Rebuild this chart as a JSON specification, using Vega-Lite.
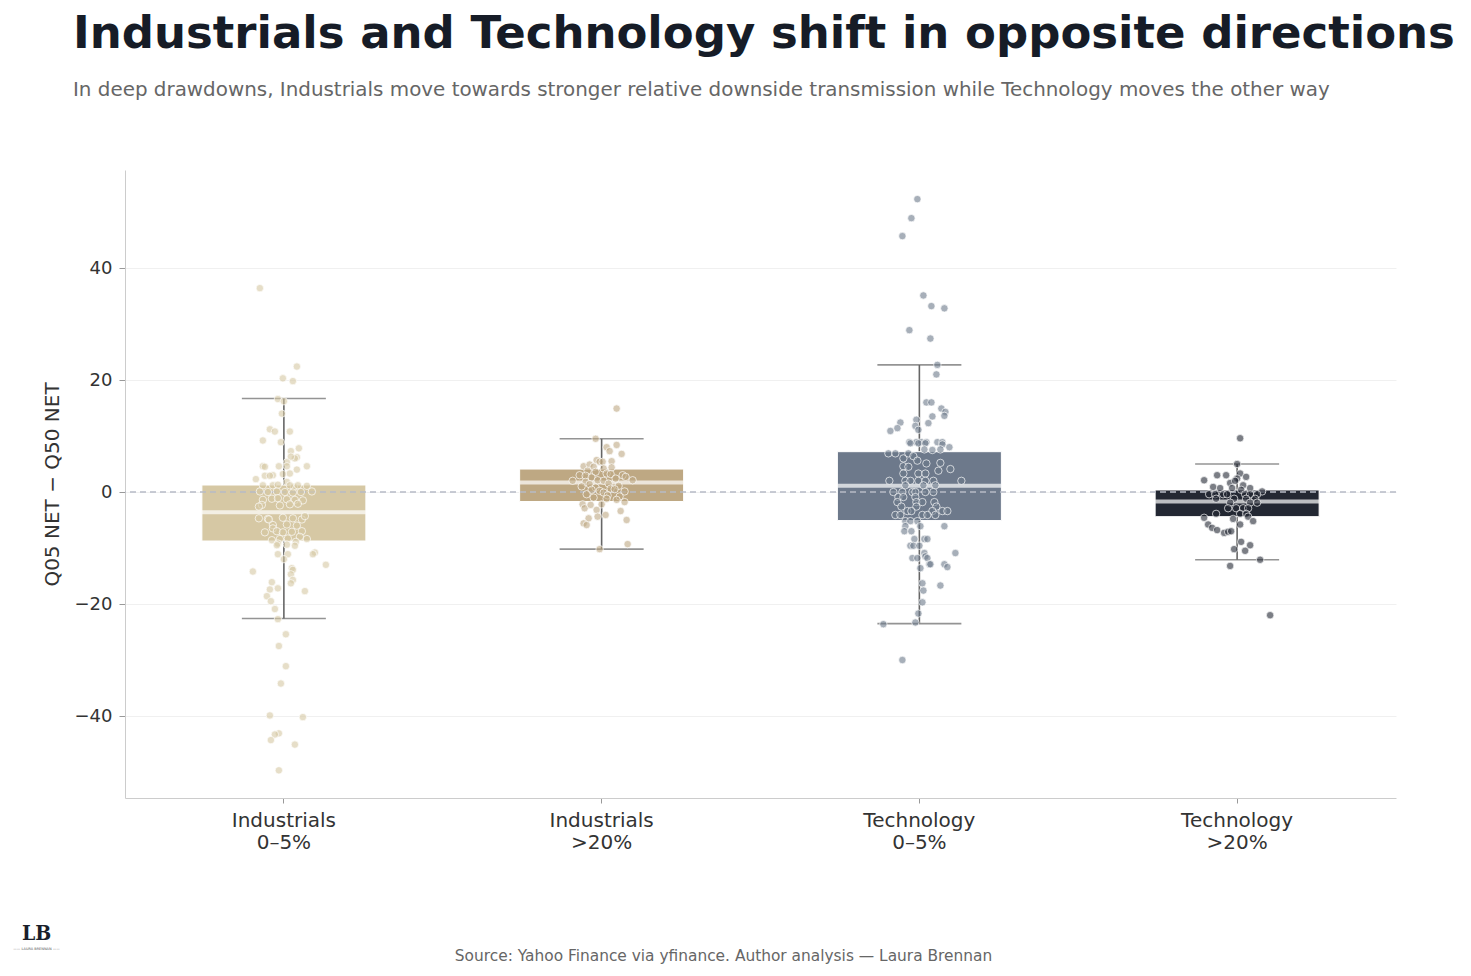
{
  "$schema": "https://vega.github.io/schema/vega-lite/v6.json",
  "width": 1271,
  "height": 628,
  "autosize": {"type": "none"},
  "padding": {"left": 125, "top": 170, "right": 75, "bottom": 178},
  "background": "white",
  "config": {"view": {"stroke": null}, "font": "DejaVu Sans"},
  "title": {
    "text": "Industrials and Technology shift in opposite directions",
    "subtitle": "In deep drawdowns, Industrials move towards stronger relative downside transmission while Technology moves the other way",
    "anchor": "start",
    "frame": "group",
    "dx": -52,
    "offset": 70,
    "font": "DejaVu Sans",
    "fontSize": 45,
    "fontWeight": "bold",
    "color": "#161c27",
    "subtitleFont": "DejaVu Sans",
    "subtitleFontSize": 19.9,
    "subtitleColor": "#666666",
    "subtitlePadding": 23
  },
  "datasets": {
    "summary": [
      {"group": "Industrials 0–5%", "lo": -22.6, "q1": -8.75, "median": -3.6, "q3": 1.25, "hi": 16.7},
      {"group": "Industrials >20%", "lo": -10.2, "q1": -1.7, "median": 1.7, "q3": 4.1, "hi": 9.5},
      {"group": "Technology 0–5%", "lo": -23.5, "q1": -5.1, "median": 1.1, "q3": 7.2, "hi": 22.7},
      {"group": "Technology >20%", "lo": -12.1, "q1": -4.4, "median": -1.7, "q3": 0.36, "hi": 5.0}
    ],
    "points": [
      {"group": "Industrials 0–5%", "value": 36.4, "jitter": -24},
      {"group": "Industrials 0–5%", "value": 22.4, "jitter": 13},
      {"group": "Industrials 0–5%", "value": 20.3, "jitter": -1},
      {"group": "Industrials 0–5%", "value": 19.8, "jitter": 9},
      {"group": "Industrials 0–5%", "value": 16.6, "jitter": -6},
      {"group": "Industrials 0–5%", "value": 16.2, "jitter": 0},
      {"group": "Industrials 0–5%", "value": 14.0, "jitter": -2},
      {"group": "Industrials 0–5%", "value": 11.2, "jitter": -14},
      {"group": "Industrials 0–5%", "value": 10.8, "jitter": -9},
      {"group": "Industrials 0–5%", "value": 10.8, "jitter": 6},
      {"group": "Industrials 0–5%", "value": 9.2, "jitter": -21},
      {"group": "Industrials 0–5%", "value": 8.9, "jitter": -3},
      {"group": "Industrials 0–5%", "value": 7.8, "jitter": 15},
      {"group": "Industrials 0–5%", "value": 7.3, "jitter": 7},
      {"group": "Industrials 0–5%", "value": 6.2, "jitter": 13},
      {"group": "Industrials 0–5%", "value": 6.0, "jitter": 11},
      {"group": "Industrials 0–5%", "value": 6.3, "jitter": 7},
      {"group": "Industrials 0–5%", "value": 5.3, "jitter": 3},
      {"group": "Industrials 0–5%", "value": 4.6, "jitter": 23},
      {"group": "Industrials 0–5%", "value": 4.6, "jitter": -21},
      {"group": "Industrials 0–5%", "value": 4.5, "jitter": -19},
      {"group": "Industrials 0–5%", "value": 4.6, "jitter": -5},
      {"group": "Industrials 0–5%", "value": 4.6, "jitter": 3},
      {"group": "Industrials 0–5%", "value": 4.0, "jitter": 13},
      {"group": "Industrials 0–5%", "value": 3.3, "jitter": 6},
      {"group": "Industrials 0–5%", "value": 3.2, "jitter": -1},
      {"group": "Industrials 0–5%", "value": 2.9, "jitter": -19},
      {"group": "Industrials 0–5%", "value": 3.0, "jitter": -11},
      {"group": "Industrials 0–5%", "value": 2.9, "jitter": -14},
      {"group": "Industrials 0–5%", "value": 2.3, "jitter": -28},
      {"group": "Industrials 0–5%", "value": 1.8, "jitter": 3},
      {"group": "Industrials 0–5%", "value": 0.9, "jitter": 10},
      {"group": "Industrials 0–5%", "value": 1.2, "jitter": -21},
      {"group": "Industrials 0–5%", "value": 1.2, "jitter": -11},
      {"group": "Industrials 0–5%", "value": 1.3, "jitter": -6},
      {"group": "Industrials 0–5%", "value": 1.2, "jitter": 6},
      {"group": "Industrials 0–5%", "value": 1.2, "jitter": 14},
      {"group": "Industrials 0–5%", "value": 1.1, "jitter": 23},
      {"group": "Industrials 0–5%", "value": 0.1, "jitter": -24},
      {"group": "Industrials 0–5%", "value": 0.0, "jitter": -16},
      {"group": "Industrials 0–5%", "value": 0.1, "jitter": -7},
      {"group": "Industrials 0–5%", "value": 0.0, "jitter": 1},
      {"group": "Industrials 0–5%", "value": -0.1, "jitter": 9},
      {"group": "Industrials 0–5%", "value": 0.0, "jitter": 17},
      {"group": "Industrials 0–5%", "value": 0.1, "jitter": 28},
      {"group": "Industrials 0–5%", "value": -1.4, "jitter": -21},
      {"group": "Industrials 0–5%", "value": -1.2, "jitter": -12},
      {"group": "Industrials 0–5%", "value": -1.1, "jitter": -6},
      {"group": "Industrials 0–5%", "value": -1.3, "jitter": 3},
      {"group": "Industrials 0–5%", "value": -1.4, "jitter": 11},
      {"group": "Industrials 0–5%", "value": -1.5, "jitter": 19},
      {"group": "Industrials 0–5%", "value": -2.3, "jitter": -22},
      {"group": "Industrials 0–5%", "value": -2.4, "jitter": -4},
      {"group": "Industrials 0–5%", "value": -2.2, "jitter": 6},
      {"group": "Industrials 0–5%", "value": -2.1, "jitter": 14},
      {"group": "Industrials 0–5%", "value": -2.6, "jitter": -25},
      {"group": "Industrials 0–5%", "value": -4.8, "jitter": -16},
      {"group": "Industrials 0–5%", "value": -4.6, "jitter": -1},
      {"group": "Industrials 0–5%", "value": -4.7, "jitter": 9},
      {"group": "Industrials 0–5%", "value": -4.9, "jitter": 18},
      {"group": "Industrials 0–5%", "value": -4.7, "jitter": -25},
      {"group": "Industrials 0–5%", "value": -4.9, "jitter": -15},
      {"group": "Industrials 0–5%", "value": -4.3, "jitter": 21},
      {"group": "Industrials 0–5%", "value": -5.9, "jitter": -11},
      {"group": "Industrials 0–5%", "value": -5.8, "jitter": 3},
      {"group": "Industrials 0–5%", "value": -6.0, "jitter": 13},
      {"group": "Industrials 0–5%", "value": -6.5, "jitter": -11},
      {"group": "Industrials 0–5%", "value": -7.2, "jitter": -19},
      {"group": "Industrials 0–5%", "value": -7.0, "jitter": -7},
      {"group": "Industrials 0–5%", "value": -7.2, "jitter": -1},
      {"group": "Industrials 0–5%", "value": -7.1, "jitter": 8},
      {"group": "Industrials 0–5%", "value": -7.0, "jitter": 18},
      {"group": "Industrials 0–5%", "value": -8.6, "jitter": -12},
      {"group": "Industrials 0–5%", "value": -8.4, "jitter": -4},
      {"group": "Industrials 0–5%", "value": -8.3, "jitter": 4},
      {"group": "Industrials 0–5%", "value": -8.0, "jitter": 16},
      {"group": "Industrials 0–5%", "value": -8.4, "jitter": 23},
      {"group": "Industrials 0–5%", "value": -8.9, "jitter": 12},
      {"group": "Industrials 0–5%", "value": -9.2, "jitter": -6},
      {"group": "Industrials 0–5%", "value": -9.5, "jitter": -7},
      {"group": "Industrials 0–5%", "value": -9.4, "jitter": 3},
      {"group": "Industrials 0–5%", "value": -9.6, "jitter": 11},
      {"group": "Industrials 0–5%", "value": -10.8, "jitter": 31},
      {"group": "Industrials 0–5%", "value": -11.1, "jitter": 29},
      {"group": "Industrials 0–5%", "value": -11.1, "jitter": -6},
      {"group": "Industrials 0–5%", "value": -11.1, "jitter": 4},
      {"group": "Industrials 0–5%", "value": -12.0, "jitter": 0},
      {"group": "Industrials 0–5%", "value": -13.0, "jitter": 42},
      {"group": "Industrials 0–5%", "value": -14.2, "jitter": -31},
      {"group": "Industrials 0–5%", "value": -13.6, "jitter": 8},
      {"group": "Industrials 0–5%", "value": -13.9, "jitter": 9},
      {"group": "Industrials 0–5%", "value": -14.7, "jitter": 7},
      {"group": "Industrials 0–5%", "value": -15.7, "jitter": 9},
      {"group": "Industrials 0–5%", "value": -16.3, "jitter": 7},
      {"group": "Industrials 0–5%", "value": -16.1, "jitter": -12},
      {"group": "Industrials 0–5%", "value": -17.4, "jitter": -14},
      {"group": "Industrials 0–5%", "value": -17.2, "jitter": -6},
      {"group": "Industrials 0–5%", "value": -17.7, "jitter": 21},
      {"group": "Industrials 0–5%", "value": -18.6, "jitter": -17},
      {"group": "Industrials 0–5%", "value": -19.5, "jitter": -13},
      {"group": "Industrials 0–5%", "value": -20.9, "jitter": -9},
      {"group": "Industrials 0–5%", "value": -22.7, "jitter": -6},
      {"group": "Industrials 0–5%", "value": -25.4, "jitter": 2},
      {"group": "Industrials 0–5%", "value": -27.5, "jitter": -5},
      {"group": "Industrials 0–5%", "value": -31.1, "jitter": 2},
      {"group": "Industrials 0–5%", "value": -34.2, "jitter": -3},
      {"group": "Industrials 0–5%", "value": -39.9, "jitter": -14},
      {"group": "Industrials 0–5%", "value": -40.2, "jitter": 19},
      {"group": "Industrials 0–5%", "value": -43.1, "jitter": -5},
      {"group": "Industrials 0–5%", "value": -43.3, "jitter": -9},
      {"group": "Industrials 0–5%", "value": -44.3, "jitter": -13},
      {"group": "Industrials 0–5%", "value": -45.1, "jitter": 11},
      {"group": "Industrials 0–5%", "value": -49.7, "jitter": -5},
      {"group": "Industrials >20%", "value": 14.9, "jitter": 15},
      {"group": "Industrials >20%", "value": 9.5, "jitter": -6},
      {"group": "Industrials >20%", "value": 8.0, "jitter": 5},
      {"group": "Industrials >20%", "value": 7.3, "jitter": 8},
      {"group": "Industrials >20%", "value": 8.4, "jitter": 15},
      {"group": "Industrials >20%", "value": 6.8, "jitter": 20},
      {"group": "Industrials >20%", "value": 5.7, "jitter": -5},
      {"group": "Industrials >20%", "value": 5.4, "jitter": -2},
      {"group": "Industrials >20%", "value": 5.4, "jitter": 1},
      {"group": "Industrials >20%", "value": 5.5, "jitter": 10},
      {"group": "Industrials >20%", "value": 4.6, "jitter": -18},
      {"group": "Industrials >20%", "value": 4.9, "jitter": -12},
      {"group": "Industrials >20%", "value": 4.5, "jitter": -8},
      {"group": "Industrials >20%", "value": 4.2, "jitter": 2},
      {"group": "Industrials >20%", "value": 4.4, "jitter": 10},
      {"group": "Industrials >20%", "value": 3.8, "jitter": -14},
      {"group": "Industrials >20%", "value": 3.0, "jitter": -22},
      {"group": "Industrials >20%", "value": 2.9, "jitter": -16},
      {"group": "Industrials >20%", "value": 3.6, "jitter": -6},
      {"group": "Industrials >20%", "value": 3.3, "jitter": 5},
      {"group": "Industrials >20%", "value": 3.2, "jitter": 9},
      {"group": "Industrials >20%", "value": 3.0, "jitter": 21},
      {"group": "Industrials >20%", "value": 2.7, "jitter": 24},
      {"group": "Industrials >20%", "value": 2.1, "jitter": 31},
      {"group": "Industrials >20%", "value": 2.4, "jitter": 14},
      {"group": "Industrials >20%", "value": 2.6, "jitter": -10},
      {"group": "Industrials >20%", "value": 2.0, "jitter": -29},
      {"group": "Industrials >20%", "value": 2.1, "jitter": -4},
      {"group": "Industrials >20%", "value": 2.0, "jitter": 2},
      {"group": "Industrials >20%", "value": 1.8, "jitter": -16},
      {"group": "Industrials >20%", "value": 1.4, "jitter": -12},
      {"group": "Industrials >20%", "value": 1.5, "jitter": 7},
      {"group": "Industrials >20%", "value": 1.1, "jitter": 17},
      {"group": "Industrials >20%", "value": 1.0, "jitter": -20},
      {"group": "Industrials >20%", "value": 0.8, "jitter": -6},
      {"group": "Industrials >20%", "value": 0.6, "jitter": 9},
      {"group": "Industrials >20%", "value": 0.4, "jitter": -10},
      {"group": "Industrials >20%", "value": 0.2, "jitter": -2},
      {"group": "Industrials >20%", "value": -0.1, "jitter": 2},
      {"group": "Industrials >20%", "value": 0.5, "jitter": 13},
      {"group": "Industrials >20%", "value": 0.1, "jitter": 23},
      {"group": "Industrials >20%", "value": -0.4, "jitter": -15},
      {"group": "Industrials >20%", "value": -0.6, "jitter": 6},
      {"group": "Industrials >20%", "value": -0.8, "jitter": 18},
      {"group": "Industrials >20%", "value": -1.0, "jitter": -8},
      {"group": "Industrials >20%", "value": -1.2, "jitter": 5},
      {"group": "Industrials >20%", "value": -1.4, "jitter": 15},
      {"group": "Industrials >20%", "value": -1.8, "jitter": 23},
      {"group": "Industrials >20%", "value": -2.2, "jitter": -19},
      {"group": "Industrials >20%", "value": -2.9, "jitter": -17},
      {"group": "Industrials >20%", "value": -2.3, "jitter": -11},
      {"group": "Industrials >20%", "value": -2.2, "jitter": 0},
      {"group": "Industrials >20%", "value": -3.2, "jitter": -5},
      {"group": "Industrials >20%", "value": -3.4, "jitter": 19},
      {"group": "Industrials >20%", "value": -4.1, "jitter": 4},
      {"group": "Industrials >20%", "value": -4.4, "jitter": -4},
      {"group": "Industrials >20%", "value": -4.7, "jitter": -13},
      {"group": "Industrials >20%", "value": -5.0, "jitter": 25},
      {"group": "Industrials >20%", "value": -5.6, "jitter": -18},
      {"group": "Industrials >20%", "value": -5.9, "jitter": -15},
      {"group": "Industrials >20%", "value": -9.3, "jitter": 26},
      {"group": "Industrials >20%", "value": -10.2, "jitter": -2},
      {"group": "Technology 0–5%", "value": 52.3, "jitter": -2},
      {"group": "Technology 0–5%", "value": 48.9, "jitter": -8},
      {"group": "Technology 0–5%", "value": 45.7, "jitter": -17},
      {"group": "Technology 0–5%", "value": 35.1, "jitter": 4},
      {"group": "Technology 0–5%", "value": 33.2, "jitter": 12},
      {"group": "Technology 0–5%", "value": 32.8, "jitter": 25},
      {"group": "Technology 0–5%", "value": 28.9, "jitter": -10},
      {"group": "Technology 0–5%", "value": 27.4, "jitter": 11},
      {"group": "Technology 0–5%", "value": 22.7, "jitter": 18},
      {"group": "Technology 0–5%", "value": 21.0, "jitter": 17},
      {"group": "Technology 0–5%", "value": 16.0, "jitter": 7},
      {"group": "Technology 0–5%", "value": 16.0, "jitter": 12},
      {"group": "Technology 0–5%", "value": 14.9, "jitter": 22},
      {"group": "Technology 0–5%", "value": 14.3, "jitter": 26},
      {"group": "Technology 0–5%", "value": 13.6, "jitter": 25},
      {"group": "Technology 0–5%", "value": 13.5, "jitter": 13},
      {"group": "Technology 0–5%", "value": 12.3, "jitter": 9},
      {"group": "Technology 0–5%", "value": 12.9, "jitter": -3},
      {"group": "Technology 0–5%", "value": 11.8, "jitter": -4},
      {"group": "Technology 0–5%", "value": 11.1, "jitter": -1},
      {"group": "Technology 0–5%", "value": 12.4, "jitter": -19},
      {"group": "Technology 0–5%", "value": 11.4, "jitter": -22},
      {"group": "Technology 0–5%", "value": 10.9, "jitter": -29},
      {"group": "Technology 0–5%", "value": 8.9, "jitter": -10},
      {"group": "Technology 0–5%", "value": 8.9, "jitter": -3},
      {"group": "Technology 0–5%", "value": 8.9, "jitter": 2},
      {"group": "Technology 0–5%", "value": 8.9, "jitter": 7},
      {"group": "Technology 0–5%", "value": 8.9, "jitter": 18},
      {"group": "Technology 0–5%", "value": 8.9, "jitter": 23},
      {"group": "Technology 0–5%", "value": 8.7, "jitter": -9},
      {"group": "Technology 0–5%", "value": 8.7, "jitter": -1},
      {"group": "Technology 0–5%", "value": 8.7, "jitter": 6},
      {"group": "Technology 0–5%", "value": 8.5, "jitter": 23},
      {"group": "Technology 0–5%", "value": 8.0, "jitter": 30},
      {"group": "Technology 0–5%", "value": 6.9, "jitter": -31},
      {"group": "Technology 0–5%", "value": 6.9, "jitter": -24},
      {"group": "Technology 0–5%", "value": 6.0, "jitter": -16},
      {"group": "Technology 0–5%", "value": 6.9, "jitter": -11},
      {"group": "Technology 0–5%", "value": 6.4, "jitter": -6},
      {"group": "Technology 0–5%", "value": 7.6, "jitter": 5},
      {"group": "Technology 0–5%", "value": 7.5, "jitter": 13},
      {"group": "Technology 0–5%", "value": 7.6, "jitter": 21},
      {"group": "Technology 0–5%", "value": 5.6, "jitter": -2},
      {"group": "Technology 0–5%", "value": 5.1, "jitter": 7},
      {"group": "Technology 0–5%", "value": 5.2, "jitter": 21},
      {"group": "Technology 0–5%", "value": 4.6, "jitter": -16},
      {"group": "Technology 0–5%", "value": 4.5, "jitter": -11},
      {"group": "Technology 0–5%", "value": 4.1, "jitter": 31},
      {"group": "Technology 0–5%", "value": 3.8, "jitter": 19},
      {"group": "Technology 0–5%", "value": 3.3, "jitter": -16},
      {"group": "Technology 0–5%", "value": 3.3, "jitter": -1},
      {"group": "Technology 0–5%", "value": 3.3, "jitter": 6},
      {"group": "Technology 0–5%", "value": 2.0, "jitter": -30},
      {"group": "Technology 0–5%", "value": 2.0, "jitter": -14},
      {"group": "Technology 0–5%", "value": 2.0, "jitter": -9},
      {"group": "Technology 0–5%", "value": 2.0, "jitter": -1},
      {"group": "Technology 0–5%", "value": 2.0, "jitter": 6},
      {"group": "Technology 0–5%", "value": 2.0, "jitter": 14},
      {"group": "Technology 0–5%", "value": 2.0, "jitter": 42},
      {"group": "Technology 0–5%", "value": 1.2, "jitter": -14},
      {"group": "Technology 0–5%", "value": 1.2, "jitter": 4},
      {"group": "Technology 0–5%", "value": 1.2, "jitter": 16},
      {"group": "Technology 0–5%", "value": 0.0, "jitter": -26},
      {"group": "Technology 0–5%", "value": 0.0, "jitter": -17},
      {"group": "Technology 0–5%", "value": 0.0, "jitter": -7},
      {"group": "Technology 0–5%", "value": 0.0, "jitter": -4},
      {"group": "Technology 0–5%", "value": 0.0, "jitter": 6},
      {"group": "Technology 0–5%", "value": 0.0, "jitter": 14},
      {"group": "Technology 0–5%", "value": -0.9, "jitter": -21},
      {"group": "Technology 0–5%", "value": -0.9, "jitter": -16},
      {"group": "Technology 0–5%", "value": -0.9, "jitter": -4},
      {"group": "Technology 0–5%", "value": -1.8, "jitter": -22},
      {"group": "Technology 0–5%", "value": -1.8, "jitter": -3},
      {"group": "Technology 0–5%", "value": -1.8, "jitter": 3},
      {"group": "Technology 0–5%", "value": -1.8, "jitter": 15},
      {"group": "Technology 0–5%", "value": -2.6, "jitter": -18},
      {"group": "Technology 0–5%", "value": -2.6, "jitter": -3},
      {"group": "Technology 0–5%", "value": -2.6, "jitter": 17},
      {"group": "Technology 0–5%", "value": -3.4, "jitter": -12},
      {"group": "Technology 0–5%", "value": -3.4, "jitter": -8},
      {"group": "Technology 0–5%", "value": -3.4, "jitter": 13},
      {"group": "Technology 0–5%", "value": -3.4, "jitter": 23},
      {"group": "Technology 0–5%", "value": -3.4, "jitter": 28},
      {"group": "Technology 0–5%", "value": -4.1, "jitter": -24},
      {"group": "Technology 0–5%", "value": -4.1, "jitter": -19},
      {"group": "Technology 0–5%", "value": -4.1, "jitter": 3},
      {"group": "Technology 0–5%", "value": -4.1, "jitter": 8},
      {"group": "Technology 0–5%", "value": -4.1, "jitter": 16},
      {"group": "Technology 0–5%", "value": -5.2, "jitter": -14},
      {"group": "Technology 0–5%", "value": -5.2, "jitter": -9},
      {"group": "Technology 0–5%", "value": -5.2, "jitter": -2},
      {"group": "Technology 0–5%", "value": -6.1, "jitter": -14},
      {"group": "Technology 0–5%", "value": -6.1, "jitter": 1},
      {"group": "Technology 0–5%", "value": -6.1, "jitter": 25},
      {"group": "Technology 0–5%", "value": -7.0, "jitter": -15},
      {"group": "Technology 0–5%", "value": -7.0, "jitter": -8},
      {"group": "Technology 0–5%", "value": -8.4, "jitter": -5},
      {"group": "Technology 0–5%", "value": -8.4, "jitter": 5},
      {"group": "Technology 0–5%", "value": -8.4, "jitter": 8},
      {"group": "Technology 0–5%", "value": -9.6, "jitter": -9},
      {"group": "Technology 0–5%", "value": -9.6, "jitter": -6},
      {"group": "Technology 0–5%", "value": -9.6, "jitter": 0},
      {"group": "Technology 0–5%", "value": -10.9, "jitter": 36},
      {"group": "Technology 0–5%", "value": -10.9, "jitter": 5},
      {"group": "Technology 0–5%", "value": -11.5, "jitter": 6},
      {"group": "Technology 0–5%", "value": -11.8, "jitter": -7},
      {"group": "Technology 0–5%", "value": -11.8, "jitter": -2},
      {"group": "Technology 0–5%", "value": -11.8, "jitter": 8},
      {"group": "Technology 0–5%", "value": -12.9, "jitter": 10},
      {"group": "Technology 0–5%", "value": -12.9, "jitter": 11},
      {"group": "Technology 0–5%", "value": -12.9, "jitter": 25},
      {"group": "Technology 0–5%", "value": -13.4, "jitter": 28},
      {"group": "Technology 0–5%", "value": -13.6, "jitter": 1},
      {"group": "Technology 0–5%", "value": -16.3, "jitter": 3},
      {"group": "Technology 0–5%", "value": -17.6, "jitter": 4},
      {"group": "Technology 0–5%", "value": -16.7, "jitter": 21},
      {"group": "Technology 0–5%", "value": -19.7, "jitter": 3},
      {"group": "Technology 0–5%", "value": -21.7, "jitter": -1},
      {"group": "Technology 0–5%", "value": -23.3, "jitter": -4},
      {"group": "Technology 0–5%", "value": -23.6, "jitter": -36},
      {"group": "Technology 0–5%", "value": -30.0, "jitter": -17},
      {"group": "Technology >20%", "value": 9.6, "jitter": 3},
      {"group": "Technology >20%", "value": 5.0, "jitter": 0},
      {"group": "Technology >20%", "value": 3.0, "jitter": -20},
      {"group": "Technology >20%", "value": 3.0, "jitter": -11},
      {"group": "Technology >20%", "value": 3.3, "jitter": 3},
      {"group": "Technology >20%", "value": 2.7, "jitter": 9},
      {"group": "Technology >20%", "value": 2.4, "jitter": 0},
      {"group": "Technology >20%", "value": 2.1, "jitter": -33},
      {"group": "Technology >20%", "value": 1.6, "jitter": -7},
      {"group": "Technology >20%", "value": 2.0, "jitter": -2},
      {"group": "Technology >20%", "value": 1.2, "jitter": 6},
      {"group": "Technology >20%", "value": 0.7, "jitter": 13},
      {"group": "Technology >20%", "value": 0.9, "jitter": -24},
      {"group": "Technology >20%", "value": 0.7, "jitter": -17},
      {"group": "Technology >20%", "value": 0.7, "jitter": -5},
      {"group": "Technology >20%", "value": 0.4, "jitter": 4},
      {"group": "Technology >20%", "value": 0.1, "jitter": 25},
      {"group": "Technology >20%", "value": -0.4, "jitter": -28},
      {"group": "Technology >20%", "value": -0.4, "jitter": -22},
      {"group": "Technology >20%", "value": -0.4, "jitter": -14},
      {"group": "Technology >20%", "value": -0.4, "jitter": -10},
      {"group": "Technology >20%", "value": -0.4, "jitter": 8},
      {"group": "Technology >20%", "value": -0.4, "jitter": 13},
      {"group": "Technology >20%", "value": -0.4, "jitter": 20},
      {"group": "Technology >20%", "value": -1.2, "jitter": -21},
      {"group": "Technology >20%", "value": -1.2, "jitter": -3},
      {"group": "Technology >20%", "value": -1.2, "jitter": 9},
      {"group": "Technology >20%", "value": -1.2, "jitter": 18},
      {"group": "Technology >20%", "value": -1.9, "jitter": -7},
      {"group": "Technology >20%", "value": -1.9, "jitter": 13},
      {"group": "Technology >20%", "value": -1.9, "jitter": 20},
      {"group": "Technology >20%", "value": -2.9, "jitter": -9},
      {"group": "Technology >20%", "value": -2.9, "jitter": -1},
      {"group": "Technology >20%", "value": -2.9, "jitter": 6},
      {"group": "Technology >20%", "value": -2.9, "jitter": 11},
      {"group": "Technology >20%", "value": -3.9, "jitter": -21},
      {"group": "Technology >20%", "value": -3.9, "jitter": 3},
      {"group": "Technology >20%", "value": -3.9, "jitter": 9},
      {"group": "Technology >20%", "value": -4.6, "jitter": -33},
      {"group": "Technology >20%", "value": -4.8, "jitter": -4},
      {"group": "Technology >20%", "value": -4.4, "jitter": 11},
      {"group": "Technology >20%", "value": -5.2, "jitter": 16},
      {"group": "Technology >20%", "value": -5.8, "jitter": -29},
      {"group": "Technology >20%", "value": -6.4, "jitter": -25},
      {"group": "Technology >20%", "value": -5.8, "jitter": 3},
      {"group": "Technology >20%", "value": -6.8, "jitter": -20},
      {"group": "Technology >20%", "value": -7.3, "jitter": -13},
      {"group": "Technology >20%", "value": -7.1, "jitter": -9},
      {"group": "Technology >20%", "value": -7.0, "jitter": -6},
      {"group": "Technology >20%", "value": -8.9, "jitter": 4},
      {"group": "Technology >20%", "value": -9.5, "jitter": 13},
      {"group": "Technology >20%", "value": -10.2, "jitter": -3},
      {"group": "Technology >20%", "value": -10.5, "jitter": 8},
      {"group": "Technology >20%", "value": -12.1, "jitter": 23},
      {"group": "Technology >20%", "value": -13.2, "jitter": -7},
      {"group": "Technology >20%", "value": -22.0, "jitter": 33}
    ]
  },
  "resolve": {"axis": {"x": "independent"}},
  "layer": [
    {
      "data": {"name": "summary"},
      "mark": {"type": "rule", "color": "#666666", "strokeWidth": 1.6},
      "encoding": {
        "x": {
          "field": "group",
          "type": "nominal",
          "scale": {"domain": ["Industrials 0–5%", "Industrials >20%", "Technology 0–5%", "Technology >20%"], "paddingInner": 0, "paddingOuter": 0},
          "axis": {
            "orient": "bottom",
            "labelAngle": 0,
            "labelExpr": "[slice(datum.label, 0, indexof(datum.label, ' ')), slice(datum.label, indexof(datum.label, ' ') + 1)]",
            "labelFontSize": 20,
            "labelColor": "#333333",
            "labelLineHeight": 22,
            "labelPadding": 7,
            "tickSize": 5,
            "tickColor": "#999999",
            "domainColor": "#cccccc",
            "grid": false,
            "title": "Source: Yahoo Finance via yfinance. Author analysis — Laura Brennan",
            "titleFontSize": 15.4,
            "titleFontWeight": "normal",
            "titleColor": "#666666",
            "titleX": 598,
            "titleY": 162,
            "titleAlign": "center",
            "titleBaseline": "alphabetic"
          }
        },
        "y": {
          "field": "lo",
          "type": "quantitative",
          "scale": {"domain": [-54.64, 57.5], "nice": false, "zero": false},
          "axis": {
            "values": [-40, -20, 0, 20, 40],
            "title": "Q05 NET − Q50 NET",
            "titleFontSize": 20,
            "titleFontWeight": "normal",
            "titleColor": "#333333",
            "titlePadding": 12,
            "labelFontSize": 18,
            "labelColor": "#333333",
            "labelPadding": 7,
            "tickSize": 6,
            "tickColor": "#999999",
            "domainColor": "#cccccc",
            "gridColor": "#f0f0f0",
            "grid": true
          }
        },
        "y2": {"field": "hi"}
      }
    },
    {
      "data": {"name": "summary"},
      "mark": {"type": "tick", "color": "#666666", "thickness": 1.6, "size": 84, "orient": "horizontal"},
      "encoding": {
        "x": {
          "field": "group",
          "type": "nominal",
          "axis": {
            "orient": "top",
            "domain": false,
            "ticks": false,
            "labels": false,
            "grid": false,
            "title": "——  LAURA BRENNAN  ——",
            "titleFontSize": 3.5,
            "titleFontWeight": "normal",
            "titleColor": "#555555",
            "titleX": -89,
            "titleY": 779,
            "titleAlign": "center",
            "titleBaseline": "alphabetic"
          }
        },
        "y": {"field": "lo", "type": "quantitative"}
      }
    },
    {
      "data": {"name": "summary"},
      "mark": {"type": "tick", "color": "#666666", "thickness": 1.6, "size": 84, "orient": "horizontal"},
      "encoding": {
        "x": {"field": "group", "type": "nominal", "axis": null},
        "y": {"field": "hi", "type": "quantitative"}
      }
    },
    {
      "data": {"name": "summary"},
      "mark": {"type": "bar", "width": 164, "stroke": "white", "strokeWidth": 1},
      "encoding": {
        "x": {"field": "group", "type": "nominal", "axis": null},
        "y": {"field": "q1", "type": "quantitative"},
        "y2": {"field": "q3"},
        "color": {
          "field": "group",
          "type": "nominal",
          "scale": {"domain": ["Industrials 0–5%", "Industrials >20%", "Technology 0–5%", "Technology >20%"], "range": ["#d6c8a4", "#bea883", "#6d798b", "#232833"]},
          "legend": null
        }
      }
    },
    {
      "data": {"name": "summary"},
      "mark": {"type": "tick", "color": "white", "thickness": 4, "size": 164, "orient": "horizontal"},
      "encoding": {
        "x": {"field": "group", "type": "nominal", "axis": null},
        "y": {"field": "median", "type": "quantitative"}
      }
    },
    {
      "data": {"values": [{}]},
      "mark": {"type": "rule", "color": "#b6bac6", "strokeDash": [6, 4], "strokeWidth": 1.5},
      "encoding": {"y": {"datum": 0}}
    },
    {
      "data": {"name": "points"},
      "mark": {"type": "circle", "size": 55, "fillOpacity": 0.6, "stroke": "white", "strokeWidth": 0.8, "strokeOpacity": 0.85},
      "encoding": {
        "x": {
          "field": "group",
          "type": "nominal",
          "axis": {
            "orient": "top",
            "domain": false,
            "ticks": false,
            "labels": false,
            "grid": false,
            "title": "LB",
            "titleFont": "DejaVu Serif Condensed",
            "titleFontSize": 21,
            "titleFontWeight": "bold",
            "titleColor": "#1a1f2b",
            "titleX": -89,
            "titleY": 769,
            "titleAlign": "center",
            "titleBaseline": "alphabetic"
          }
        },
        "xOffset": {"field": "jitter", "type": "quantitative", "scale": {"domain": [-158.875, 158.875]}},
        "y": {"field": "value", "type": "quantitative"},
        "color": {"field": "group", "type": "nominal", "legend": null}
      }
    }
  ]
}
